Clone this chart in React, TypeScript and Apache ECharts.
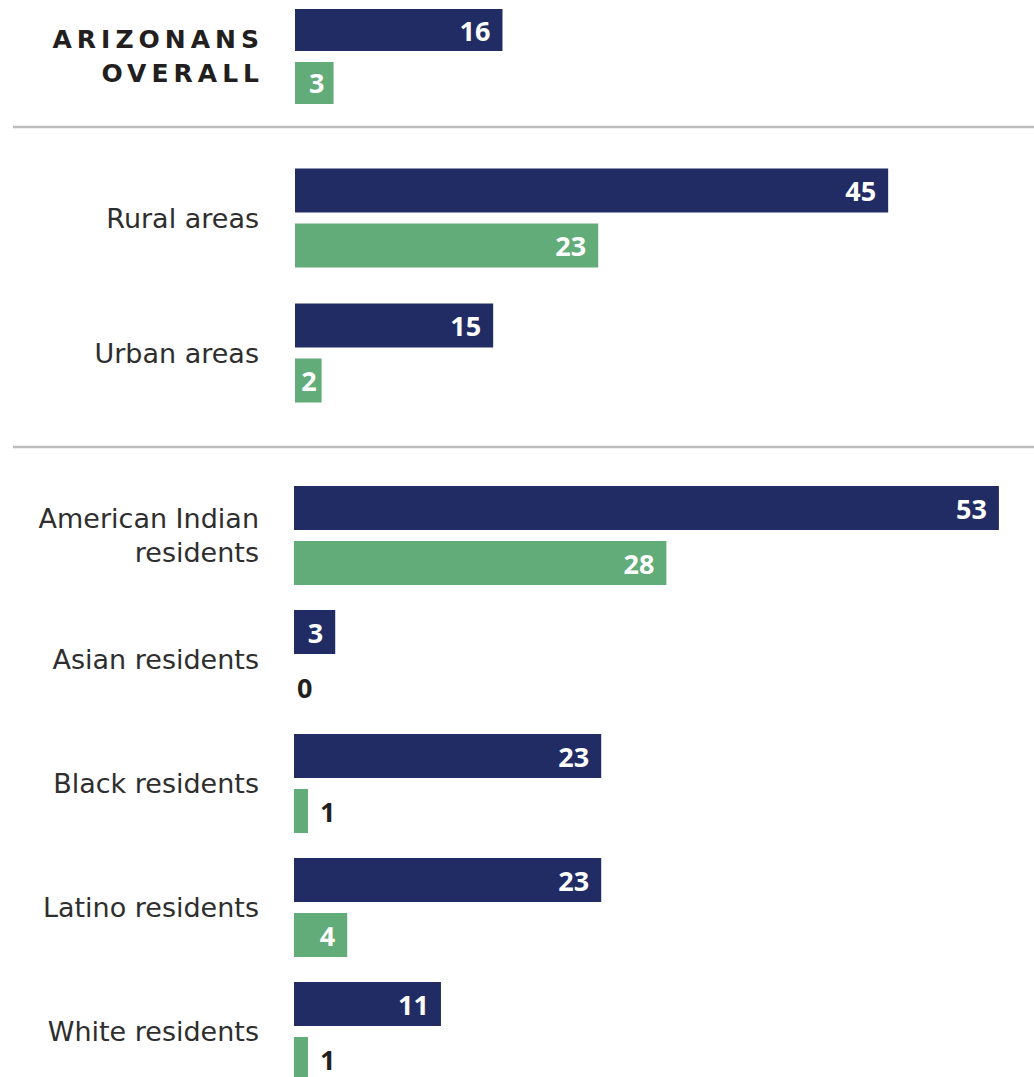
import React, { useEffect, useRef } from "react";
import * as echarts from "echarts";

// ---- Data ----
const overallCategories = ["ARIZONANS\nOVERALL"];
const areaCategories = ["Rural areas", "Urban areas"];
const raceCategories = [
  "American Indian\nresidents",
  "Asian residents",
  "Black residents",
  "Latino residents",
  "White residents",
];

const overallNavy = [15.6];
const overallGreen = [2.9];
const areaNavy = [44.6, 14.9];
const areaGreen = [22.8, 2.0];
const raceNavy = [53, 3.1, 23.1, 23.1, 11.05];
const raceGreen = [28, 0, 1.05, 4, 1.05];

const NAVY = "#212C65";
const GREEN = "#62AC79";
const DARK = "#231F20";

function items(values: number[]) {
  return values.map((v) => {
    const r = Math.round(v);
    if (r <= 1) {
      return {
        value: v,
        label: { position: "right", distance: r === 0 ? 3 : 12, color: DARK },
      };
    }
    if (r === 2) return { value: v, label: { distance: 5 } };
    if (r === 3 && v < 3) return { value: v, label: { distance: 9 } };
    return v;
  });
}

export default function App() {
  const ref = useRef<HTMLDivElement>(null);

  useEffect(() => {
    if (!ref.current) return;
    const chart = echarts.init(ref.current, undefined, { renderer: "svg" });

    const grids = [
      { left: 295, top: 0, height: 113, width: 731.5 },
      { left: 295, top: 150.5, height: 270, width: 731.5 },
      { left: 294, top: 473.5, height: 620, width: 731.5 },
    ];
    const cats = [overallCategories, areaCategories, raceCategories];
    const navyData = [overallNavy, areaNavy, raceNavy];
    const greenData = [overallGreen, areaGreen, raceGreen];

    const barLabel = {
      show: true,
      position: "insideRight",
      distance: 12,
      color: "#ffffff",
      fontFamily: "Open Sans",
      fontWeight: 700,
      fontSize: 27,
      formatter: (p: any) => String(Math.round(p.value)),
    };

    const series: any[] = [];
    cats.forEach((_, i) => {
      const bw = i === 0 ? 42 : 44;
      const gap = i === 0 ? "26%" : "25%";
      series.push({
        type: "bar",
        name: "Navy",
        xAxisIndex: i,
        yAxisIndex: i,
        data: items(navyData[i]),
        barWidth: bw,
        barGap: gap,
        itemStyle: { color: NAVY },
        label: barLabel,
        silent: true,
      });
      series.push({
        type: "bar",
        name: "Green",
        xAxisIndex: i,
        yAxisIndex: i,
        data: items(greenData[i]),
        barWidth: bw,
        barGap: gap,
        itemStyle: { color: GREEN },
        label: barLabel,
        silent: true,
      });
    });

    chart.setOption({
      animation: false,
      grid: grids,
      xAxis: grids.map((_, i) => ({
        type: "value",
        gridIndex: i,
        min: 0,
        max: 55,
        show: false,
      })),
      yAxis: cats.map((c, i) => ({
        type: "category",
        gridIndex: i,
        data: c,
        inverse: true,
        axisLine: { show: false },
        axisTick: { show: false },
        splitLine: { show: false },
        axisLabel:
          i === 0
            ? {
                margin: 31,
                fontFamily: "DejaVu Sans",
                fontWeight: "bold",
                fontSize: 25,
                lineHeight: 34,
                color: DARK,
                align: "right",
              }
            : {
                margin: i === 2 ? 35 : 36,
                fontFamily: "DejaVu Sans",
                fontSize: 27,
                lineHeight: 34,
                color: "#2e2e2e",
                align: "right",
              },
      })),
      series,
      graphic: [
        {
          type: "line",
          shape: { x1: 13, y1: 127, x2: 1034, y2: 127 },
          style: { stroke: "#BDBDBD", lineWidth: 2.5 },
          silent: true,
        },
        {
          type: "line",
          shape: { x1: 13, y1: 447, x2: 1034, y2: 447 },
          style: { stroke: "#BDBDBD", lineWidth: 2.5 },
          silent: true,
        },
      ],
    });

    // add letter spacing to the bold heading label
    const texts = ref.current.querySelectorAll("text");
    texts.forEach((t) => {
      const s = (t.textContent || "").trim();
      if (s === "ARIZONANS" || s === "OVERALL") {
        (t as SVGTextElement).style.letterSpacing = "5px";
      }
    });

    return () => chart.dispose();
  }, []);

  return (
    <div
      style={{
        position: "absolute",
        left: 0,
        top: 0,
        width: 1034,
        height: 1077,
        overflow: "hidden",
      }}
    >
      <div ref={ref} style={{ width: 1034, height: 1100 }} />
    </div>
  );
}
